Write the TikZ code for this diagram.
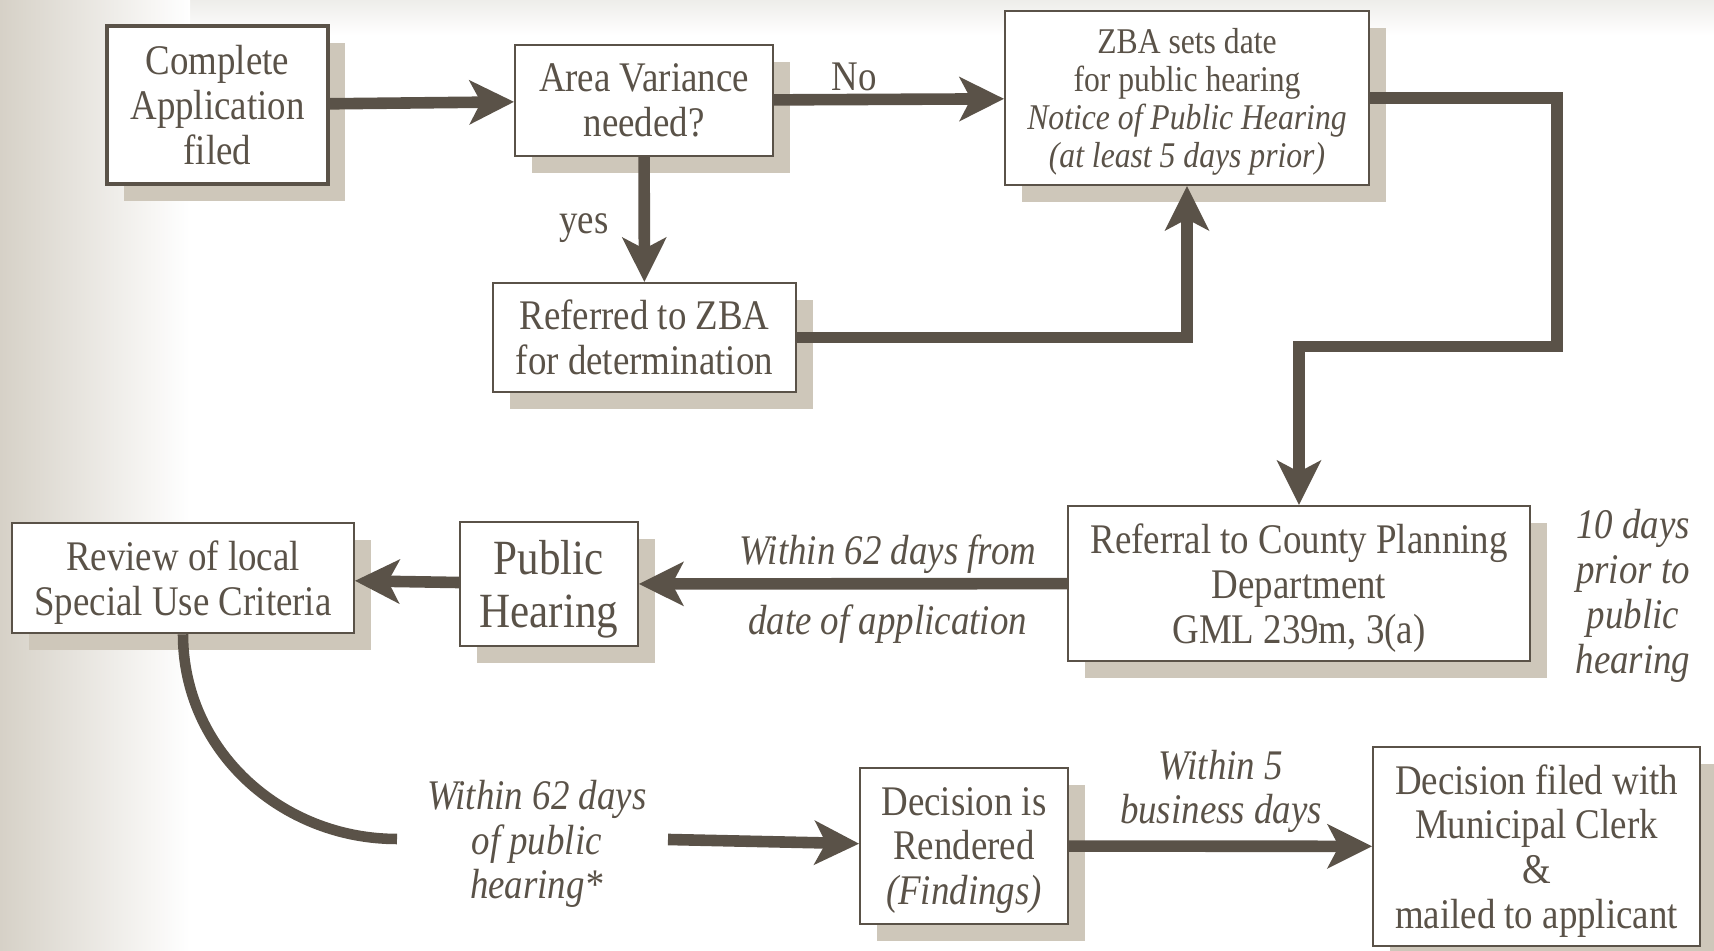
\documentclass[tikz,border=0pt]{standalone}
\usepackage{fontspec}
\setmainfont{Liberation Serif}[FakeStretch=0.875]
\usepackage{tikz}
\usetikzlibrary{arrows.meta, shadows}
\definecolor{ink}{RGB}{90,82,72}
\definecolor{shadowtan}{RGB}{206,199,186}
\definecolor{leftgray}{RGB}{214,209,199}
\definecolor{topgray}{RGB}{238,237,234}
\tikzset{>={Stealth[length=12.8pt,width=12.8pt,inset=3.4pt,line width=0pt]},
    flow/.style={->, line width=3.3pt, ink},
    curveline/.style={line width=3pt, ink},
    box/.style={rectangle, draw=ink, fill=white, line width=0.6pt, align=center,
        text=ink, inner sep=2pt, font=\fontsize{12}{12.75}\selectfont,
        general shadow={fill=shadowtan, draw=none, shadow xshift=0.17cm, shadow yshift=-0.17cm}},
    textdrop/.style={text depth=0pt},
    textnode/.style={align=center, text=ink, font=\fontsize{12}{12.75}\selectfont},
    note/.style={textnode, font=\fontsize{12}{12.75}\selectfont\itshape}}

\begin{document}
\begin{tikzpicture}
\useasboundingbox (0,0) rectangle (17.14,-9.51);
\fill[top color=topgray, bottom color=white] (0,0) rectangle (17.14,-0.35);
\shade[left color=leftgray, right color=white] (0,0) rectangle (1.9,-9.51);

\node[box, line width=1.1pt, minimum width=2.21cm, minimum height=1.58cm] (app) at (2.175,-1.05) {Complete\\Application\\filed};
\node[box, minimum width=2.58cm, minimum height=1.11cm] (var) at (6.44,-1.005) {Area Variance\\needed?};
\node[box, textdrop, minimum width=3.64cm, minimum height=1.74cm, font=\fontsize{10.3}{10.85}\selectfont] (zba) at (11.87,-0.98)
    {ZBA sets date\\for public hearing\\\textit{Notice of Public Hearing}\\\textit{(at least 5 days prior)}};
\node[box, minimum width=3.03cm, minimum height=1.09cm] (ref) at (6.445,-3.375) {Referred to ZBA\\for determination};
\node[box, textdrop, minimum width=4.62cm, minimum height=1.55cm] (county) at (12.99,-5.835) {Referral to County Planning\\Department\\GML 239m, 3(a)};
\node[box, textdrop, minimum width=1.78cm, minimum height=1.235cm, font=\fontsize{14}{15}\selectfont] (hear) at (5.49,-5.84) {Public\\Hearing};
\node[box, textdrop, minimum width=3.42cm, minimum height=1.105cm] (review) at (1.83,-5.78) {Review of local\\Special Use Criteria};
\node[box, textdrop, minimum width=2.08cm, minimum height=1.56cm] (decis) at (9.64,-8.46) {Decision is\\Rendered\\\textit{(Findings)}};
\node[box, textdrop, minimum width=3.27cm, minimum height=1.99cm] (filed) at (15.365,-8.465) {Decision filed with\\Municipal Clerk\\\&\\mailed to applicant};

\node[textnode] (no) at (8.54,-0.765) {No};
\node[textnode] (yes) at (5.84,-2.285) {yes};
\node[note] (within) at (8.876,-5.545) {Within 62 days from};
\node[note] (dateapp) at (8.876,-6.245) {date of application};
\node[note] (prior) at (16.33,-5.96) {10 days\\prior to\\public\\hearing};
\node[note] (within62) at (5.367,-8.44) {Within 62 days\\of public\\hearing*};
\node[note] (within5) at (12.21,-7.915) {Within 5\\business days};

\coordinate (turn) at (15.57,-3.465);
\coordinate (arcend) at (3.97,-8.39);
\coordinate (gapend) at (6.68,-8.395);

\path[flow] (app) edge (var)
    (var) edge (zba)
    (var) edge (ref)
    (county) edge (hear)
    (hear) edge (review)
    (decis) edge (filed)
    (gapend) edge (decis);
\draw[flow] (ref) -| (zba);
\draw[flow] (zba) -| (turn) -| (county);
\draw[curveline] (review) to[out=-90,in=180] (arcend);
\end{tikzpicture}
\end{document}
